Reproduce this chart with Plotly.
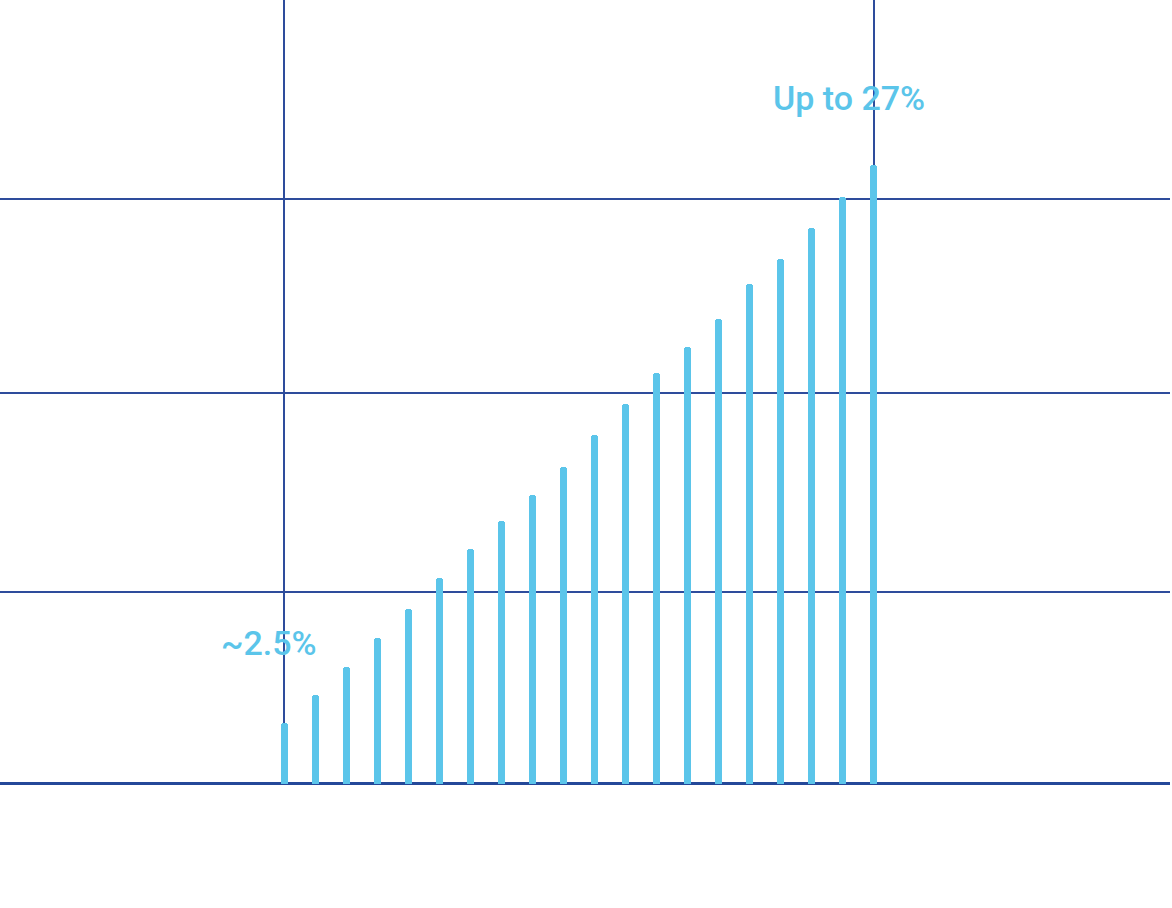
import plotly.graph_objects as go

# Data
steps = list(range(1, 21))
values = [2.64, 3.86, 5.10, 6.37, 7.61, 8.99, 10.24, 11.46, 12.59, 13.83,
          15.21, 16.56, 17.93, 19.05, 20.30, 21.80, 22.90, 24.27, 25.63, 27.0]
grid_y = [8.38, 17.07, 25.52]
grid_x = [1, 20]
label_first = "~2.5%"
label_last = "Up to 27%"

BAR = "#5bc5ea"
GRID = "#2e4c9c"
BASE = "#244899"

fig = go.Figure()
fig.add_trace(go.Bar(
    x=steps, y=values, width=0.21,
    marker=dict(color=BAR, line=dict(width=0), cornerradius="50%"),
    hoverinfo="skip", showlegend=False,
))

fig.add_annotation(x=steps[0], y=6.13, xref="x", yref="y", text=label_first,
                   showarrow=False, xshift=-15, xanchor="center", yanchor="middle",
                   font=dict(family="Roboto", size=34, color=BAR, weight=500))
fig.add_annotation(x=steps[-1], y=29.95, xref="x", yref="y", text=label_last,
                   showarrow=False, xshift=-25, xanchor="center", yanchor="middle",
                   font=dict(family="Roboto", size=34, color=BAR, weight=500))

fig.update_layout(
    width=1172, height=908, autosize=False,
    margin=dict(l=0, r=2, t=0, b=123, pad=0),
    plot_bgcolor="white", paper_bgcolor="white",
    xaxis=dict(range=[-8.174, 29.556], tickvals=grid_x, showticklabels=False,
               showgrid=True, gridcolor=GRID, gridwidth=2, zeroline=False,
               showline=False, ticks=""),
    yaxis=dict(range=[-0.0655, 34.214], tickvals=grid_y, showticklabels=False,
               showgrid=True, gridcolor=GRID, gridwidth=2, zeroline=True,
               zerolinecolor=BASE, zerolinewidth=3, showline=False, ticks=""),
    bargap=0,
)

fig.write_html("out.html", config={"displayModeBar": False},
               post_script="document.body.style.margin='0';")
